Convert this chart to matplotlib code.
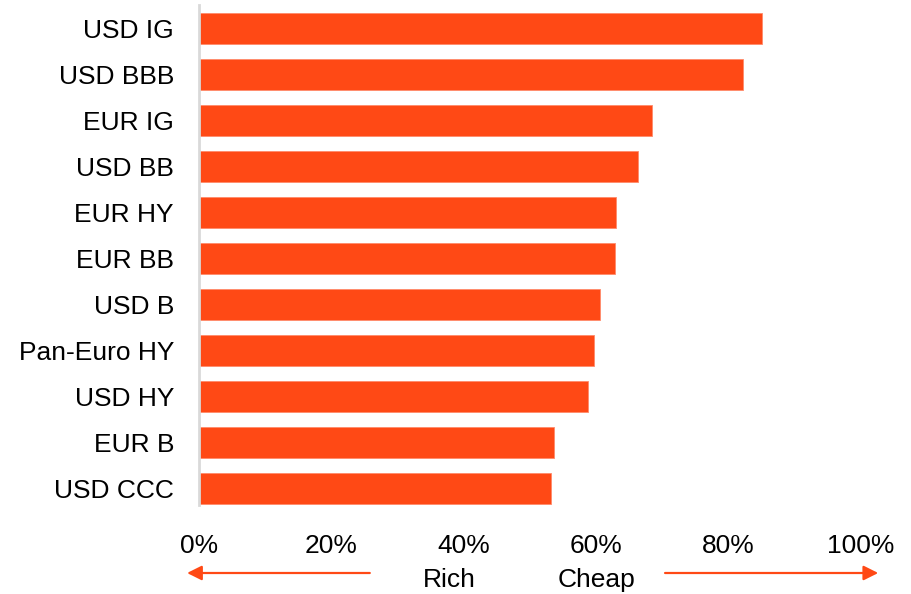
import matplotlib

matplotlib.use("Agg")

import matplotlib.pyplot as plt
from matplotlib.ticker import FuncFormatter

categories = [
    "USD IG", "USD BBB", "EUR IG", "USD BB", "EUR HY", "EUR BB",
    "USD B", "Pan-Euro HY", "USD HY", "EUR B", "USD CCC",
]
percentiles = [85.1, 82.1, 68.5, 66.3, 63.0, 62.8, 60.6, 59.6, 58.7, 53.7, 53.2]
x_ticks = [0, 20, 40, 60, 80, 100]

BAR_COLOR = "#FF4915"
FONT_SIZE = 19

plt.rcParams["font.family"] = ["Liberation Sans", "DejaVu Sans"]

fig = plt.figure(figsize=(9.12, 5.94), dpi=100)
ax = fig.add_axes([199 / 912, 89 / 594, 662 / 912, 500 / 594])

positions = list(range(len(categories)))
ax.barh(
    positions,
    percentiles,
    height=0.66,
    color=BAR_COLOR,
    edgecolor="#FF8A6A",
    linewidth=0.6,
    zorder=2,
)

ax.set_xlim(0, 100)
ax.set_ylim(10.36, -0.51)
ax.set_yticks(positions)
ax.set_yticklabels(categories)
ax.set_xticks(x_ticks)
ax.xaxis.set_major_formatter(FuncFormatter(lambda v, _: f"{v:.0f}%"))

ax.tick_params(axis="y", length=0, pad=18, labelsize=FONT_SIZE)
ax.tick_params(axis="x", length=0, pad=21, labelsize=FONT_SIZE)

for side in ("top", "right", "bottom"):
    ax.spines[side].set_visible(False)
ax.spines["left"].set_color("#D9D9D9")
ax.spines["left"].set_linewidth(2)

arrow_y = -0.136
trans = ax.get_xaxis_transform()
arrow_props = dict(arrowstyle="-|>", color=BAR_COLOR, lw=1.6, mutation_scale=22,
                   shrinkA=0, shrinkB=0)
ax.annotate("", xy=(-1.8, arrow_y), xytext=(25.8, arrow_y), xycoords=trans,
            textcoords=trans, arrowprops=arrow_props, annotation_clip=False)
ax.annotate("", xy=(102.6, arrow_y), xytext=(70.4, arrow_y), xycoords=trans,
            textcoords=trans, arrowprops=arrow_props, annotation_clip=False)
ax.text(37.8, -0.15, "Rich", transform=trans, ha="center", va="center", fontsize=FONT_SIZE)
ax.text(60.0, -0.15, "Cheap", transform=trans, ha="center", va="center", fontsize=FONT_SIZE)

fig.savefig("out.png", dpi=100)
